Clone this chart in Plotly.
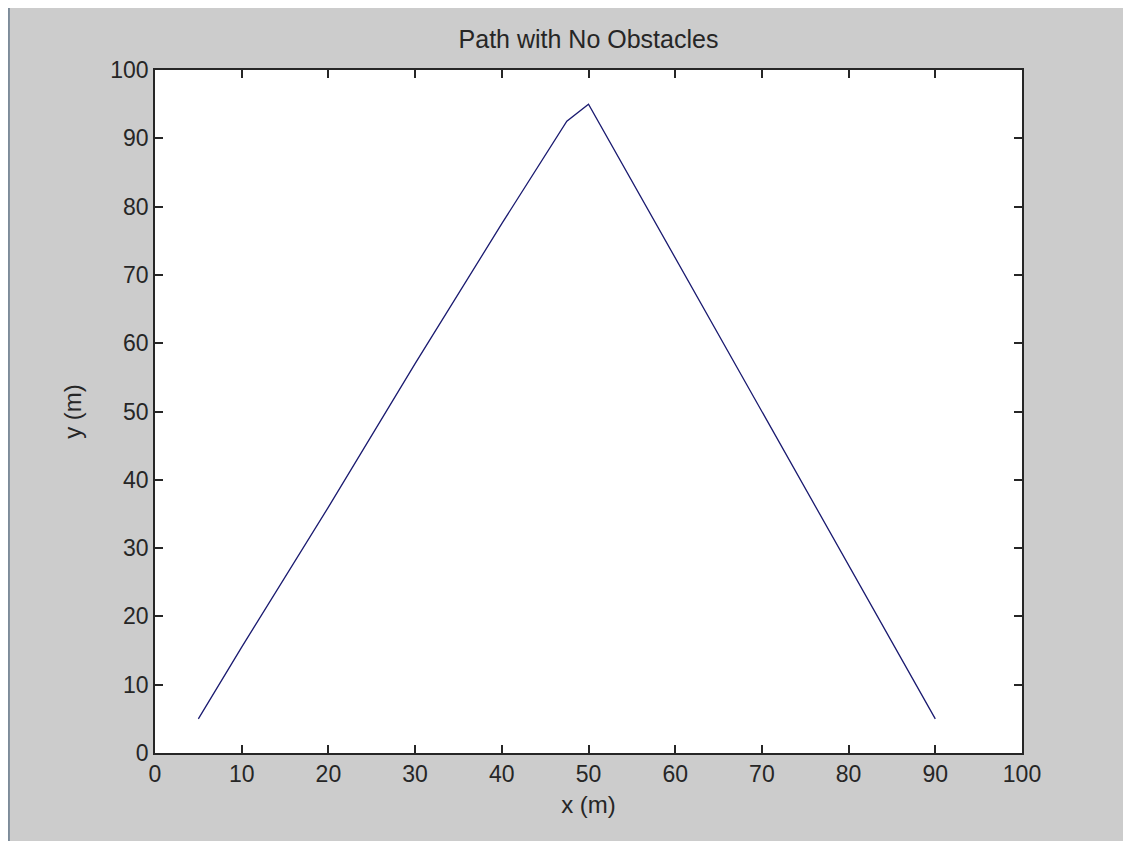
import plotly.graph_objects as go

# path waypoints
path_x = [5, 10, 20, 30, 40, 47.5, 50, 60, 70, 80, 90]
path_y = [5, 15.5, 36, 57, 77.5, 92.5, 95, 72.5, 50, 27.5, 5]

x_ticks = [0, 10, 20, 30, 40, 50, 60, 70, 80, 90, 100]
y_ticks = [0, 10, 20, 30, 40, 50, 60, 70, 80, 90, 100]

BG = "#cccccc"
INK = "#262626"
FONT = "Liberation Sans, Arial, sans-serif"

fig = go.Figure(go.Scatter(
    x=path_x, y=path_y, mode="lines",
    line=dict(color="#1a1a70", width=1.3), showlegend=False,
))

axis_common = dict(
    showgrid=False, zeroline=False, showline=True, linecolor=INK, linewidth=1.5,
    mirror="allticks", ticks="inside", ticklen=8, tickwidth=1.5, tickcolor=INK,
    tickfont=dict(size=23, color=INK, family=FONT),
)

fig.update_xaxes(range=[0, 100], tickvals=x_ticks, title=dict(text="x (m)", standoff=10,
                 font=dict(size=24, color=INK, family=FONT)), **axis_common)
fig.update_yaxes(range=[0, 100], tickvals=y_ticks, title=dict(text="y (m)", standoff=22,
                 font=dict(size=24, color=INK, family=FONT)), **axis_common)

# the page adds an 8px body margin, margins below account for it
fig.update_layout(
    width=1131, height=841,
    margin=dict(l=147, r=117, t=62, b=96),
    paper_bgcolor=BG, plot_bgcolor="white",
    title=dict(text="Path with No Obstacles", xref="paper", x=0.5, xanchor="center",
               y=1 - 31 / 841, yanchor="middle",
               font=dict(size=25, color=INK, family=FONT)),
)

# window border on the left edge
fig.add_shape(type="line", xref="paper", yref="paper", x0=-0.1685, x1=-0.1685, y0=-0.15, y1=1.12,
              line=dict(color="#7d8b99", width=2))

fig.write_html("out.html")
